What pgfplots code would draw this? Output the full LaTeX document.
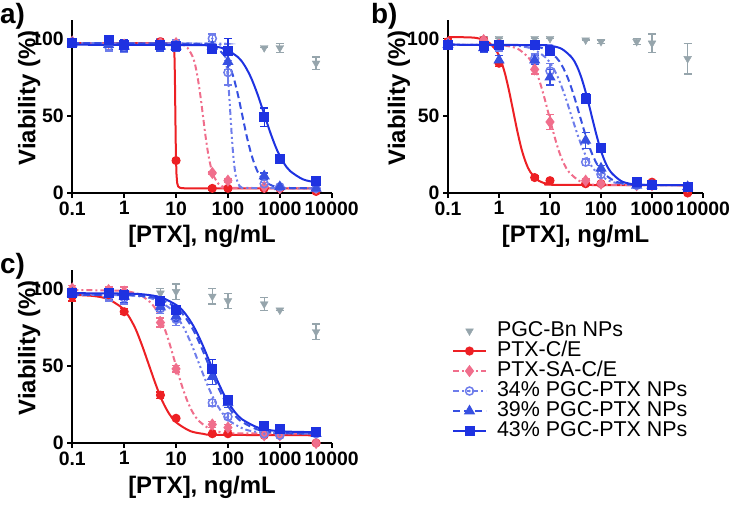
\documentclass[border=0pt]{standalone}
\usepackage{pgfplots}
\usepackage{pgfplotstable}
\pgfplotsset{compat=1.18}
\usepackage{fontspec}
\setmainfont{Liberation Sans}
\definecolor{cred}{RGB}{237,32,36}
\definecolor{cpink}{RGB}{240,110,140}
\definecolor{cb34}{RGB}{110,125,235}
\definecolor{cb39}{RGB}{55,80,225}
\definecolor{cb43}{RGB}{30,50,225}
\definecolor{cgray}{RGB}{150,165,172}
\pgfdeclareplotmark{odot}{%
  \pgfpathcircle{\pgfpointorigin}{\pgfplotmarksize}\pgfusepathqstroke
  \pgfpathcircle{\pgfpointorigin}{0.35\pgfplotmarksize}\pgfusepathqfill}

\pgfplotstableread{
x g ge r re p pe o oe t te s se
0.1 nan nan 97 2 98 2 97 3 97 3 97 2
0.5 nan nan 97 1 97 2 95 3 96 3 99 2
1 nan nan 96 2 96 3 95 4 95 3 96 3
5 nan nan 98 2 97 2 96 4 95 3 96 3
10 nan nan 21 1 97 2 96 3 95 3 95 2
50 nan nan 3 1 13 1 100 3 95 3 93 2
100 nan nan 3 1 8 1 78 8 85 5 92 8
500 94 0 3 1 4 1 6 1 11 2 49 6
1000 94 3 3 1 3 1 4 1 4 1 22 2
5000 84 4 1 1 3 1 3 1 3 1 8 1
}\dataA
\pgfplotstableread{
x g ge r re p pe o oe t te s se
0.1 nan nan 98 2 97 2 96 2 96 2 96 2
0.5 100 0 99 2 99 2 95 3 94 3 95 3
1 100 0 84 2 96 2 95 3 86 3 96 2
5 100 0 10 1 80 3 87 3 86 3 96 2
10 100 0 8 1 46 5 79 5 75 5 92 3
50 99 0 6 1 8 1 20 2 34 5 61 3
100 98 1 6 1 6 1 12 2 16 2 29 2
500 98 2 6 1 5 1 5 1 5 1 7 1
1000 97 6 7 1 5 1 5 1 5 1 5 1
5000 87 10 0 1 4 1 4 1 4 1 4 1
}\dataB
\pgfplotstableread{
x g ge r re p pe o oe t te s se
0.1 nan nan 95 3 100 2 97 2 97 2 97 2
0.5 nan nan 95 3 99 2 95 3 96 3 97 2
1 nan nan 85 2 98 3 94 4 95 4 96 3
5 97 3 31 2 78 3 87 3 88 3 92 2
10 98 5 16 1 48 2 80 4 82 3 86 2
50 95 5 6 1 12 2 26 2 43 5 48 6
100 92 5 6 1 10 2 17 2 26 3 28 2
500 90 4 5 1 5 1 6 1 10 1 11 1
1000 86 0 5 1 5 1 5 1 8 1 9 1
5000 72 5 0 1 0 1 6 1 6 1 7 1
}\dataC

\pgfplotsset{
  mypanel/.style={
    scale only axis, height=173bp,
    xmin=0.1, xmax=10000, ymin=0, ymax=112,
    axis x line*=bottom, axis y line*=left,
    axis line style={line width=1.6bp, black},
    major tick style={black, line width=1.6bp},
    major tick length=5bp, tick align=outside,
    xtick={0.1,1,10,100,1000,10000}, xticklabels={0.1,1,10,100,1000,10000},
    ytick={0,50,100}, yticklabels={0,50,100},
    xminorticks=false, yminorticks=false,
    tick label style={font=\fontsize{19.5}{19.5}\selectfont\bfseries},
    label style={font=\fontsize{24}{24}\selectfont\bfseries},
    xlabel={\relax[PTX], ng/mL},
    ylabel={Viability (\%)},
    xlabel style={at={([yshift=-50bp]axis description cs:0.5,0)}, anchor=base},
    clip=false,
  },
  sred/.style={cred, line width=2bp, mark=*, mark size=3.5bp, mark options={solid, fill=cred}},
  spink/.style={cpink, line width=2bp, dash pattern=on 6bp off 3bp on 2bp off 3bp, mark=diamond*, mark size=4.5bp, mark options={solid, fill=cpink}},
  s34/.style={cb34, line width=2bp, dash pattern=on 6bp off 3bp on 2bp off 3bp on 2bp off 3bp, mark=odot, mark size=4bp, mark options={solid, fill=cb34, line width=1.5bp}},
  s39/.style={cb39, line width=2bp, dash pattern=on 7bp off 4bp, mark=triangle*, mark size=4.5bp, mark options={solid, fill=cb39}},
  s43/.style={cb43, line width=2bp, mark=square*, mark size=4bp, mark options={solid, fill=cb43}},
  sgray/.style={cgray, only marks, mark=triangle*, mark size=4.5bp, mark options={rotate=180, solid, fill=cgray}},
  ebar/.style={/pgfplots/error bars/y dir=both, /pgfplots/error bars/y explicit,
    /pgfplots/error bars/error bar style={line width=1.3bp, solid},
    /pgfplots/error bars/error mark options={rotate=90, mark size=4bp, line width=1.3bp, solid}},
}

\begin{document}
\begin{tikzpicture}
\path[use as bounding box] (0,0) rectangle (737bp,506bp);

% ---------------- panel a
\begin{semilogxaxis}[mypanel, width=259.4bp, at={(72.3bp,313bp)}, anchor=south west,
  ylabel style={at={([xshift=-37bp]axis description cs:0,0.55)}, anchor=base}]
\addplot[sgray, forget plot, ebar] table[x=x, y=g, y error=ge] {\dataA};
\addplot[sred, no markers, forget plot] coordinates {(0.1,97)(5,97)(8,96.8)(9,95.5)(9.3,90)(9.5,75)(9.7,50)(9.85,33)(10,21)(10.2,12)(10.5,6.5)(11,4.2)(12,3.3)(15,3)(5000,3)};
\addplot[sred, only marks, forget plot, ebar] table[x=x, y=r, y error=re] {\dataA};
\addplot[spink, no markers, smooth, forget plot] coordinates {(0.1,97)(10.4,96.7)(13.1,96.1)(16.5,94.1)(20.8,88.4)(23.4,82.8)(26.2,74.4)(29.4,63.2)(33,50)(37.0,36.8)(41.5,25.6)(46.6,17.2)(52.3,11.5)(65.8,5.9)(82.9,3.9)(104,3.3)(5000,3)};
\addplot[spink, only marks, forget plot, ebar] table[x=x, y=p, y error=pe] {\dataA};
\addplot[s34, no markers, smooth, forget plot] coordinates {(0.1,97)(63,96.7)(70.7,96.1)(79.3,94.1)(88.9,88.4)(94.2,82.8)(99.8,74.4)(105.7,63.2)(112,50)(118.6,36.8)(125.7,25.6)(133.2,17.2)(141,11.5)(158,5.9)(177.5,3.9)(199,3.3)(5000,3)};
\addplot[s34, only marks, forget plot, ebar] table[x=x, y=o, y error=oe] {\dataA};
\addplot[s39, no markers, smooth, forget plot] coordinates {(0.1,97)(27.9,96.7)(40.9,96.1)(60,94.1)(88.2,88.4)(106.8,82.8)(129.4,74.4)(156.8,63.2)(190,50)(230,36.8)(279,25.6)(338,17.2)(409,11.5)(601,5.9)(882,3.9)(1294,3.3)(5000,3)};
\addplot[s39, only marks, forget plot, ebar] table[x=x, y=t, y error=te] {\dataA};
\addplot[s43, no markers, smooth, forget plot] coordinates {(0.1,96)(28.1,95.7)(50,95.1)(89,93.2)(158,87.8)(211,82.4)(281,74.4)(375,63.6)(500,51)(667,38.4)(889,27.6)(1186,19.6)(1581,14.2)(2812,8.8)(5000,6.9)};
\addplot[s43, only marks, forget plot, ebar] table[x=x, y=s, y error=se] {\dataA};
\end{semilogxaxis}

% ---------------- panel b
\begin{semilogxaxis}[mypanel, width=255bp, at={(448bp,313bp)}, anchor=south west,
  ylabel style={at={([xshift=-43bp]axis description cs:0,0.55)}, anchor=base}]
\addplot[sgray, forget plot, ebar] table[x=x, y=g, y error=ge] {\dataB};
\addplot[sred, no markers, smooth, forget plot] coordinates {(0.1,101)(0.279,100.7)(0.409,100)(0.6,98)(0.882,92.3)(1.068,86.5)(1.294,78)(1.568,66.4)(1.9,53)(2.303,39.6)(2.789,28)(3.378,19.5)(4.093,13.7)(6.008,7.9)(8.82,6)(12.94,5.3)(5000,5)};
\addplot[sred, only marks, forget plot, ebar] table[x=x, y=r, y error=re] {\dataB};
\addplot[spink, no markers, smooth, forget plot] coordinates {(0.1,96)(0.95,95.7)(1.5,95.1)(2.38,93.2)(3.78,87.7)(4.76,82.3)(5.99,74.2)(7.54,63.2)(9.5,50.5)(11.96,37.8)(15.06,26.8)(18.95,18.7)(23.9,13.3)(37.8,7.8)(59.9,5.9)(95,5.3)(5000,5)};
\addplot[spink, only marks, forget plot, ebar] table[x=x, y=p, y error=pe] {\dataB};
\addplot[s34, no markers, smooth, forget plot] coordinates {(0.1,96)(1.46,95.7)(2.6,95.1)(4.63,93.2)(8.22,87.7)(10.97,82.3)(14.6,74.2)(19.5,63.2)(26,50.5)(34.7,37.8)(46.2,26.8)(61.6,18.7)(82.2,13.3)(146,7.8)(260,5.9)(463,5.3)(5000,5)};
\addplot[s34, only marks, forget plot, ebar] table[x=x, y=o, y error=oe] {\dataB};
\addplot[s39, no markers, smooth, forget plot] coordinates {(0.1,96)(2.78,95.7)(4.69,95.1)(7.9,93.2)(13.3,87.7)(17.3,82.3)(22.5,74.2)(29.3,63.2)(38,50.5)(49.4,37.8)(64.1,26.8)(83.3,18.7)(108,13.3)(182,7.8)(308,5.9)(520,5.3)(5000,5)};
\addplot[s39, only marks, forget plot, ebar] table[x=x, y=t, y error=te] {\dataB};
\addplot[s43, no markers, smooth, forget plot] coordinates {(0.1,96)(7.1,95.7)(11.1,95.1)(17.2,93.2)(26.8,87.7)(33.5,82.3)(41.7,74.2)(52.1,63.2)(65,50.5)(81.1,37.8)(101,26.8)(126,18.7)(158,13.3)(246,7.8)(382,5.9)(596,5.3)(5000,5)};
\addplot[s43, only marks, forget plot, ebar] table[x=x, y=s, y error=se] {\dataB};
\end{semilogxaxis}

% ---------------- panel c
\begin{semilogxaxis}[mypanel, width=259.4bp, at={(72.3bp,63bp)}, anchor=south west,
  ylabel style={at={([xshift=-37bp]axis description cs:0,0.55)}, anchor=base},
  legend cell align=left,
  legend style={at={(axis description cs:1.4638,0.705)}, anchor=north west, draw=none, fill=none,
    inner sep=0pt, outer sep=0pt, row sep=0pt, column sep=10bp,
    font=\fontsize{21.5}{21.5}\selectfont,
    nodes={inner sep=0pt, text height=15bp, text depth=5bp}},
  legend image code/.code={\draw[mark repeat=2,mark phase=2,#1] plot coordinates {(0bp,0bp)(16.5bp,0bp)(33bp,0bp)};}]
\addplot[sgray, forget plot, ebar] table[x=x, y=g, y error=ge] {\dataC};
\addplot[sred, no markers, smooth, forget plot] coordinates {(0.1,96)(0.145,95.7)(0.266,95.1)(0.487,93.2)(0.894,87.7)(1.21,82.3)(1.64,74.2)(2.21,63.2)(3.0,50.5)(4.07,37.8)(5.5,26.8)(7.44,18.7)(10.1,13.3)(18.5,7.8)(33.9,5.9)(62.1,5.3)(5000,5)};
\addplot[sred, only marks, forget plot, ebar] table[x=x, y=r, y error=re] {\dataC};
\addplot[spink, no markers, smooth, forget plot] coordinates {(0.1,99)(0.694,98.7)(1.17,98.1)(1.98,96.1)(3.33,90.5)(4.33,85)(5.63,76.7)(7.32,65.5)(9.5,52.5)(12.3,39.5)(16,28.3)(20.8,20)(27.1,14.5)(45.6,8.9)(77,6.9)(130,6.3)(5000,6)};
\addplot[spink, only marks, forget plot, ebar] table[x=x, y=p, y error=pe] {\dataC};
\addplot[s34, no markers, smooth, forget plot] coordinates {(0.1,96)(0.946,95.7)(1.86,95.1)(3.67,93.2)(7.22,87.8)(10.1,82.4)(14.2,74.4)(20,63.6)(28,51)(39.3,38.4)(55.1,27.6)(77.3,19.6)(108,14.2)(213,8.8)(420,6.9)(826,6.3)(5000,6)};
\addplot[s34, only marks, forget plot, ebar] table[x=x, y=o, y error=oe] {\dataC};
\addplot[s39, no markers, smooth, forget plot] coordinates {(0.1,96)(1.15,95.7)(2.36,95.1)(4.85,93.2)(9.95,87.8)(14.3,82.4)(20.5,74.4)(29.3,63.6)(42,51)(60.2,38.4)(86.3,27.6)(123,19.6)(177,14.2)(364,8.8)(748,6.9)(1533,6.3)(5000,6)};
\addplot[s39, only marks, forget plot, ebar] table[x=x, y=t, y error=te] {\dataC};
\addplot[s43, no markers, smooth, forget plot] coordinates {(0.1,97)(1.23,96.7)(2.53,96.1)(5.2,94.2)(10.7,88.8)(15.3,83.4)(21.9,75.4)(31.4,64.6)(45,52)(64.5,39.4)(92.4,28.6)(132,20.6)(190,15.2)(390,9.8)(801,7.9)(1643,7.3)(5000,7)};
\addplot[s43, only marks, forget plot, ebar] table[x=x, y=s, y error=se] {\dataC};
\addlegendimage{sgray}
\addlegendentry{PGC-Bn NPs}
\addlegendimage{sred}
\addlegendentry{PTX-C/E}
\addlegendimage{spink}
\addlegendentry{PTX-SA-C/E}
\addlegendimage{s34}
\addlegendentry{34\% PGC-PTX NPs}
\addlegendimage{s39}
\addlegendentry{39\% PGC-PTX NPs}
\addlegendimage{s43}
\addlegendentry{43\% PGC-PTX NPs}
\end{semilogxaxis}

\node[anchor=north west, inner sep=0pt, font=\fontsize{28}{28}\selectfont\bfseries] at (0bp,503bp) {a)};
\node[anchor=north west, inner sep=0pt, font=\fontsize{28}{28}\selectfont\bfseries] at (371bp,503bp) {b)};
\node[anchor=north west, inner sep=0pt, font=\fontsize{28}{28}\selectfont\bfseries] at (0bp,253bp) {c)};
\end{tikzpicture}
\end{document}
